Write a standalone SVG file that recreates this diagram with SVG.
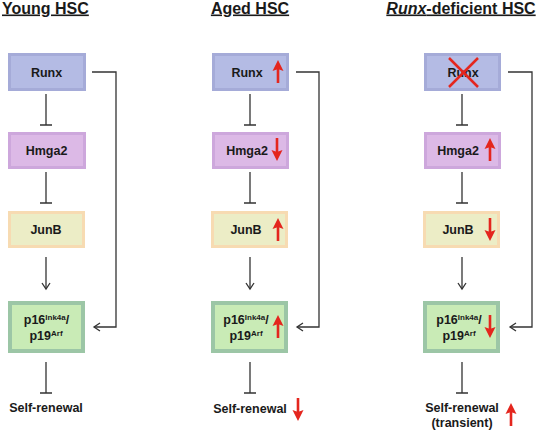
<svg xmlns="http://www.w3.org/2000/svg" xmlns:xlink="http://www.w3.org/1999/xlink" width="540" height="433" viewBox="0 0 540 433">
<style>
text{font-family:"Liberation Sans",Arial,sans-serif;font-weight:bold;fill:#1a1a1a}
.t{font-size:16px;text-decoration:underline}
.l{font-size:12.5px}
.sup{font-size:8px}
.runx{fill:#b4bbe4;stroke:#a5abd8;stroke-width:3}
.hmga{fill:#dcb9e6;stroke:#cda7dc;stroke-width:3}
.junb{fill:#ecedc6;stroke:#f7dbb2;stroke-width:3}
.p16{fill:#c9ebb6;stroke:#9cc6a6;stroke-width:4}
.c{fill:none;stroke:#333;stroke-width:1.3}
.red{fill:#e4261e}
.x{stroke:#e4261e;stroke-width:2.5}
</style>
<defs>
<marker id="open" markerWidth="10" markerHeight="10" refX="7" refY="5" orient="auto" markerUnits="userSpaceOnUse">
<path d="M1,1 L7,5 L1,9" fill="none" stroke="#333" stroke-width="1.3"/>
</marker>
<path id="up" d="M0,0 L5.5,11 L1.3,9.5 L1.3,23 L-1.3,23 L-1.3,9.5 L-5.5,11 Z"/>
</defs>

<!-- titles -->
<text class="t" x="2" y="13.5">Young HSC</text>
<text class="t" x="250" y="13.5" text-anchor="middle">Aged HSC</text>
<text class="t" x="461" y="13.5" text-anchor="middle"><tspan font-style="italic">Runx</tspan>-deficient HSC</text>

<!-- Column 1 -->
<g id="young-runx"><rect class="runx" x="9.5" y="54.5" width="75" height="35"/><text class="l" x="46.5" y="76.5" text-anchor="middle">Runx</text></g>
<g id="young-hmga2"><rect class="hmga" x="9.5" y="133.5" width="75" height="34"/><text class="l" x="46.5" y="155" text-anchor="middle">Hmga2</text></g>
<g id="young-junb"><rect class="junb" x="9.5" y="212.5" width="74" height="34"/><text class="l" x="46" y="234" text-anchor="middle">JunB</text></g>
<g id="young-p16"><rect class="p16" x="10" y="303" width="73" height="48"/><text class="l" x="46.5" y="324" text-anchor="middle">p16<tspan class="sup" dy="-4.5">Ink4a</tspan><tspan dy="4.5">/</tspan></text><text class="l" x="46" y="340" text-anchor="middle">p19<tspan class="sup" dy="-4.5">Arf</tspan></text></g>
<g id="young-self"><text class="l" x="46" y="412" text-anchor="middle">Self-renewal</text></g>

<!-- Column 2 -->
<g id="aged-runx"><rect class="runx" x="213.5" y="54.5" width="74" height="35"/><text class="l" x="247" y="76.5" text-anchor="middle">Runx</text><use href="#up" class="red" x="278" y="60"/></g>
<g id="aged-hmga2"><rect class="hmga" x="213.5" y="133.5" width="74" height="34"/><text class="l" x="247" y="155" text-anchor="middle">Hmga2</text><use href="#up" class="red" transform="translate(277,161) rotate(180)"/></g>
<g id="aged-junb"><rect class="junb" x="212.5" y="212.5" width="74" height="34"/><text class="l" x="246" y="234" text-anchor="middle">JunB</text><use href="#up" class="red" x="278" y="218"/></g>
<g id="aged-p16"><rect class="p16" x="213" y="303" width="73" height="48"/><text class="l" x="246" y="324" text-anchor="middle">p16<tspan class="sup" dy="-4.5">Ink4a</tspan><tspan dy="4.5">/</tspan></text><text class="l" x="246" y="340" text-anchor="middle">p19<tspan class="sup" dy="-4.5">Arf</tspan></text><use href="#up" class="red" x="278" y="315"/></g>
<g id="aged-self"><text class="l" x="250" y="413" text-anchor="middle">Self-renewal</text><use href="#up" class="red" transform="translate(298,421) rotate(180)"/></g>

<!-- Column 3 -->
<g id="def-runx"><rect class="runx" x="425.5" y="54.5" width="74" height="35"/><text class="l" x="463" y="76.5" text-anchor="middle">Runx</text><line class="x" x1="449" y1="58" x2="478" y2="87"/><line class="x" x1="478" y1="58" x2="449" y2="87"/></g>
<g id="def-hmga2"><rect class="hmga" x="425.5" y="133.5" width="74" height="34"/><text class="l" x="458" y="155" text-anchor="middle">Hmga2</text><use href="#up" class="red" x="490" y="138"/></g>
<g id="def-junb"><rect class="junb" x="424.5" y="212.5" width="74" height="34"/><text class="l" x="458" y="234" text-anchor="middle">JunB</text><use href="#up" class="red" transform="translate(490,241) rotate(180)"/></g>
<g id="def-p16"><rect class="p16" x="425" y="303" width="73" height="48"/><text class="l" x="459" y="324" text-anchor="middle">p16<tspan class="sup" dy="-4.5">Ink4a</tspan><tspan dy="4.5">/</tspan></text><text class="l" x="459" y="340" text-anchor="middle">p19<tspan class="sup" dy="-4.5">Arf</tspan></text><use href="#up" class="red" transform="translate(490,338) rotate(180)"/></g>
<g id="def-self"><text class="l" x="462" y="412" text-anchor="middle">Self-renewal</text><text class="l" x="462" y="427" text-anchor="middle">(transient)</text><use href="#up" class="red" x="511" y="403"/></g>

<!-- connectors -->
<g id="connectors">
<!-- col1 -->
<path class="c" d="M46,94 V125 M40,125 H52"/>
<path class="c" d="M46,172 V203 M40,203 H52"/>
<path class="c" d="M46,257 V289" marker-end="url(#open)"/>
<path class="c" d="M46,362 V393 M40,393 H52"/>
<path class="c" d="M92,72 H116 V327 H94" marker-end="url(#open)"/>
<!-- col2 -->
<path class="c" d="M250,94 V125 M244,125 H256"/>
<path class="c" d="M250,172 V203 M244,203 H256"/>
<path class="c" d="M250,257 V289" marker-end="url(#open)"/>
<path class="c" d="M250,362 V393 M244,393 H256"/>
<path class="c" d="M296,72 H319 V327 H297" marker-end="url(#open)"/>
<!-- col3 -->
<path class="c" d="M462,94 V125 M456,125 H468"/>
<path class="c" d="M462,172 V203 M456,203 H468"/>
<path class="c" d="M462,257 V289" marker-end="url(#open)"/>
<path class="c" d="M462,362 V393 M456,393 H468"/>
<path class="c" d="M508,72 H532 V327 H510" marker-end="url(#open)"/>
</g>
</svg>
